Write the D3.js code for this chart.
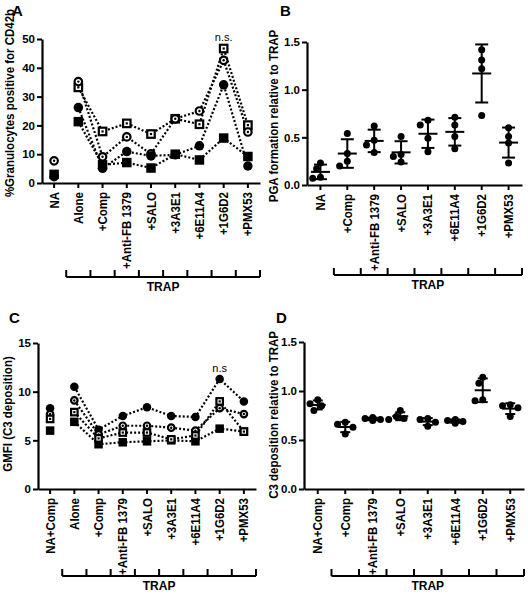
<!DOCTYPE html>
<html><head><meta charset="utf-8">
<script src="https://cdn.jsdelivr.net/npm/d3@7"></script>
<style>body{margin:0;background:#fff} text{font-family:"Liberation Sans",Arial,sans-serif;fill:#000}</style>
</head><body><svg id="c" width="528" height="600" style="background:#fff"></svg>
<script>
// ---------- DATA ----------
const catsA = ["NA","Alone","+Comp","+Anti-FB 1379","+SALO","+3A3E1","+6E11A4","+1G6D2","+PMX53"];
const ticksA = [0,10,20,30,40,50];
const aFilledCircle = [2.2, 26.2, 5.1, 10.9, 9.4, 9.8, 12.9, 34.1, 5.9];
const aFilledSquare = [3.0, 21.3, 6.3, 7.1, 5.2, 10.0, 8.0, 15.6, 9.2];
const aOpenCircle   = [7.7, 35.2, 9.1, 16.0, 10.1, 22.3, 25.0, 42.6, 17.7];
const aOpenSquare   = [null, 33.2, 17.9, 20.7, 17.0, 22.3, 20.4, 46.7, 20.1];

const catsB = ["NA","+Comp","+Anti-FB 1379","+SALO","+3A3E1","+6E11A4","+1G6D2","+PMX53"];
const ticksB = [0.0,0.5,1.0,1.5];
const bNA    = [0.23, 0.17, 0.08, 0.07];
const bComp  = [0.54, 0.33, 0.25, 0.20];
const bAnti  = [0.62, 0.47, 0.42, 0.34];
const bSALO  = [0.51, 0.32, 0.30, 0.24];
const b3A3E1 = [0.68, 0.63, 0.49, 0.35];
const b6E11A4= [0.71, 0.63, 0.51, 0.38];
const b1G6D2 = [1.42, 1.31, 1.22, 0.73];
const bPMX53 = [0.60, 0.51, 0.44, 0.23];

const catsC = ["NA+Comp","Alone","+Comp","+Anti-FB 1379","+SALO","+3A3E1","+6E11A4","+1G6D2","+PMX53"];
const ticksC = [0,5,10,15];
const cFilledCircle = [8.3, 10.5, 6.1, 7.5, 8.4, 7.5, 7.4, 11.3, 9.0];
const cOpenCircle   = [7.7, 9.1, 5.6, 6.5, 6.5, 6.3, 6.0, 8.3, 7.7];
const cOpenSquare   = [7.2, 7.9, 5.2, 5.8, 5.8, 5.1, 5.5, 9.0, 5.9];
const cFilledSquare = [6.0, 6.9, 4.6, 4.8, 4.9, 5.0, 4.9, 6.2, 5.9];

const catsD = ["NA+Comp","+Comp","+Anti-FB 1379","+SALO","+3A3E1","+6E11A4","+1G6D2","+PMX53"];
const ticksD = [0.0,0.5,1.0,1.5];
const dNA    = [0.91, 0.87, 0.85, 0.80];
const dComp  = [0.68, 0.66, 0.63, 0.56];
const dAnti  = [0.73, 0.72, 0.71, 0.70];
const dSALO  = [0.80, 0.74, 0.72, 0.71];
const d3A3E1 = [0.72, 0.71, 0.68, 0.64];
const d6E11A4= [0.71, 0.70, 0.69, 0.67];
const d1G6D2 = [1.14, 1.08, 0.91, 0.90];
const dPMX53 = [0.86, 0.85, 0.83, 0.74];

// ---------- DRAWING ----------
const svg = d3.select("#c");
const FONT = "Liberation Sans, Arial, sans-serif";

function makePanel(o){
  const g = svg.append("g");
  const x = d3.scaleBand().domain(o.cats).range([o.x0,o.x1]).padding(0);
  const y = d3.scaleLinear().domain([0,o.ymax]).range([o.y0,o.y1]);
  const ya = g.append("g").attr("transform",`translate(${o.x0},0)`)
    .call(d3.axisLeft(y).tickValues(o.ticks).tickFormat(o.fmt).tickSize(5).tickSizeOuter(0).tickPadding(2));
  const xa = g.append("g").attr("transform",`translate(0,${o.y0})`)
    .call(d3.axisBottom(x).tickSize(5).tickSizeOuter(0));
  [ya,xa].forEach(a=>{
    a.select(".domain").attr("stroke","#000").attr("stroke-width",2.2);
    a.selectAll(".tick line").attr("stroke","#000").attr("stroke-width",2);
    a.selectAll("text").attr("font-family",FONT).attr("font-weight","bold").attr("font-size","11.5px").attr("fill","#000");
  });
  xa.selectAll(".tick text")
    .attr("text-anchor","end").attr("dy",null).attr("y",null)
    .attr("transform","translate(4.5,9) rotate(-90) scale(1,1.15)");
  // TRAP bracket
  const trapCats = o.cats.slice(1);
  const bx0 = x(trapCats[0]), bx1 = x(trapCats[trapCats.length-1]) + x.bandwidth();
  const bg = g.append("g").attr("stroke","#000").attr("stroke-width",2).attr("fill","none");
  bg.append("line").attr("x1",bx0).attr("x2",bx1).attr("y1",o.brY).attr("y2",o.brY);
  trapCats.forEach(c=>bg.append("line").attr("x1",x(c)).attr("x2",x(c)).attr("y1",o.brY-7).attr("y2",o.brY));
  bg.append("line").attr("x1",bx1).attr("x2",bx1).attr("y1",o.brY-7).attr("y2",o.brY);
  g.append("text").attr("x",(bx0+bx1)/2).attr("y",o.brY+14).attr("text-anchor","middle")
    .attr("font-weight","bold").attr("font-size","12px").text("TRAP");
  // y label
  g.append("text").attr("transform",`translate(${o.ylx},${o.yly}) rotate(-90) scale(1,1.12)`)
    .attr("text-anchor","middle").attr("font-weight","bold").attr("font-size","11.5px").text(o.ylabel);
  // panel letter
  g.append("text").attr("x",o.lx).attr("y",o.ly).attr("font-weight","bold").attr("font-size","15px").text(o.letter);
  return {g,x,y};
}

function marker(g,type,cx,cy,s){
  const h=s/2;
  if(type==="fc") g.append("circle").attr("cx",cx).attr("cy",cy).attr("r",h).attr("fill","#000");
  else if(type==="fs") g.append("rect").attr("x",cx-h).attr("y",cy-h).attr("width",s).attr("height",s).attr("fill","#000");
  else if(type==="oc"){
    g.append("circle").attr("cx",cx).attr("cy",cy).attr("r",h-1).attr("fill","#fff").attr("stroke","#000").attr("stroke-width",2.2);
    g.append("circle").attr("cx",cx).attr("cy",cy).attr("r",1.2).attr("fill","#000");
  } else if(type==="os"){
    g.append("rect").attr("x",cx-h+1).attr("y",cy-h+1).attr("width",s-2).attr("height",s-2).attr("fill","#fff").attr("stroke","#000").attr("stroke-width",2.2);
    g.append("rect").attr("x",cx-1.1).attr("y",cy-1.1).attr("width",2.2).attr("height",2.2).attr("fill","#000");
  }
}

function linePanel(p,cats,series,size){
  const line = d3.line().defined(d=>d.v!=null).x(d=>p.x(d.c)+p.x.bandwidth()/2).y(d=>p.y(d.v));
  series.forEach(s=>{
    const pts = cats.map((c,i)=>({c,v:s.vals[i]})).slice(1);
    p.g.append("path").attr("d",line(pts)).attr("fill","none").attr("stroke","#000")
      .attr("stroke-width",2.2).attr("stroke-dasharray","2,2");
  });
  series.forEach(s=>{
    cats.forEach((c,i)=>{ if(s.vals[i]!=null) marker(p.g,s.type,p.x(c)+p.x.bandwidth()/2,p.y(s.vals[i]),size); });
  });
}

function dodge(vals,y,r){
  const placed=[];
  return vals.map(v=>{
    const py=y(v);
    const offs=[0,-1,1,-2,2,-3,3];
    for(const k of offs){
      const px=k*r*1.1;
      if(placed.every(q=>Math.hypot(q[0]-px,q[1]-py)>=2*r*0.95)){placed.push([px,py]);return [px,py];}
    }
    placed.push([0,py]);return [0,py];
  });
}

function scatterPanel(p,cats,groups,r,meanHalf,capHalf){
  groups.forEach((vals,i)=>{
    const cx=p.x(cats[i])+p.x.bandwidth()/2;
    const m=d3.mean(vals), sd=d3.deviation(vals);
    dodge(vals,p.y,r).forEach(([dx,py])=>p.g.append("circle").attr("cx",cx+dx).attr("cy",py).attr("r",r).attr("fill","#000"));
    const e=p.g.append("g").attr("stroke","#000").attr("stroke-width",2);
    e.append("line").attr("x1",cx).attr("x2",cx).attr("y1",p.y(m-sd)).attr("y2",p.y(m+sd));
    e.append("line").attr("x1",cx-meanHalf).attr("x2",cx+meanHalf).attr("y1",p.y(m)).attr("y2",p.y(m));
    e.append("line").attr("x1",cx-capHalf).attr("x2",cx+capHalf).attr("y1",p.y(m-sd)).attr("y2",p.y(m-sd));
    e.append("line").attr("x1",cx-capHalf).attr("x2",cx+capHalf).attr("y1",p.y(m+sd)).attr("y2",p.y(m+sd));
  });
}

// Panel A
const pA = makePanel({cats:catsA,x0:42,x1:260,y0:183,y1:39,ymax:50,ticks:ticksA,fmt:d3.format("d"),
  brY:277,ylabel:"%Granulocytes positive for CD42b",ylx:14,yly:103,letter:"A",lx:12,ly:16});
linePanel(pA,catsA,[
  {type:"os",vals:aOpenSquare},{type:"oc",vals:aOpenCircle},
  {type:"fc",vals:aFilledCircle},{type:"fs",vals:aFilledSquare}],9.5);
pA.g.append("text").attr("x",pA.x("+1G6D2")+pA.x.bandwidth()/2).attr("y",41).attr("text-anchor","middle").attr("font-size","11px").text("n.s.");

// Panel B
const pB = makePanel({cats:catsB,x0:307,x1:522,y0:185,y1:42,ymax:1.5,ticks:ticksB,fmt:d3.format(".1f"),
  brY:275,ylabel:"PGA formation relative to TRAP",ylx:278,yly:116,letter:"B",lx:280,ly:16});
scatterPanel(pB,catsB,[bNA,bComp,bAnti,bSALO,b3A3E1,b6E11A4,b1G6D2,bPMX53],3.5,9.5,6.5);

// Panel C
const pC = makePanel({cats:catsC,x0:38,x1:256,y0:489,y1:343,ymax:15,ticks:ticksC,fmt:d3.format("d"),
  brY:576,ylabel:"GMFI (C3 deposition)",ylx:12,yly:414,letter:"C",lx:9,ly:323});
linePanel(pC,catsC,[
  {type:"fc",vals:cFilledCircle},{type:"fs",vals:cFilledSquare},
  {type:"oc",vals:cOpenCircle},{type:"os",vals:cOpenSquare}],8.5);
pC.g.append("text").attr("x",pC.x("+1G6D2")+pC.x.bandwidth()/2).attr("y",372).attr("text-anchor","middle").attr("font-size","11px").text("n.s");

// Panel D
const pD = makePanel({cats:catsD,x0:304,x1:524,y0:489,y1:342,ymax:1.5,ticks:ticksD,fmt:d3.format(".1f"),
  brY:576,ylabel:"C3 deposition relative to TRAP",ylx:278,yly:415,letter:"D",lx:276,ly:323});
scatterPanel(pD,catsD,[dNA,dComp,dAnti,dSALO,d3A3E1,d6E11A4,d1G6D2,dPMX53],3.5,8,5);
</script></body></html>
